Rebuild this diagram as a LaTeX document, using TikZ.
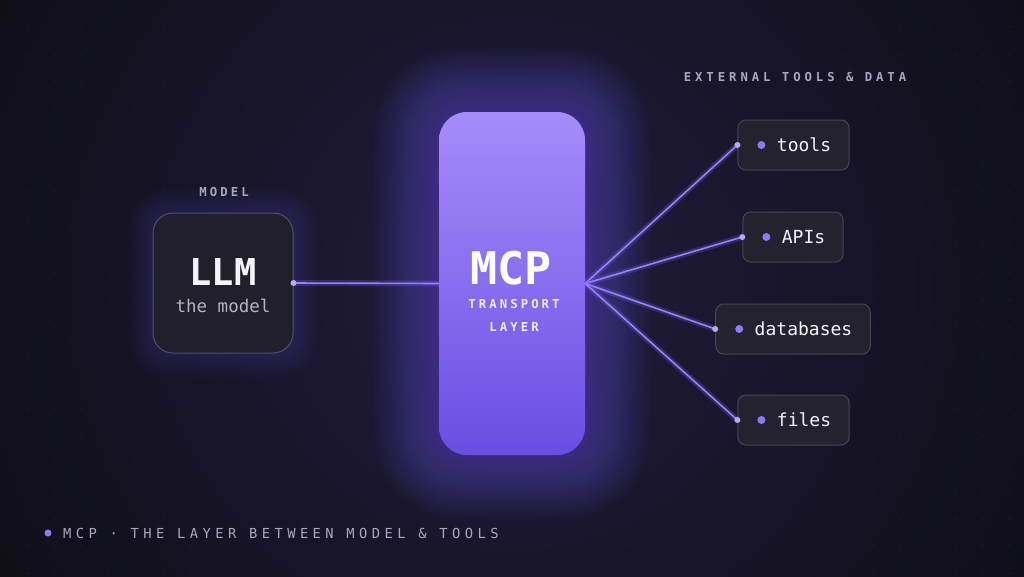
\documentclass[tikz,border=0pt]{standalone}
\usepackage{fontspec}
\setmonofont{DejaVu Sans Mono}
\newfontfamily\trackfont[LetterSpace=25]{DejaVu Sans Mono}
\newfontfamily\widetrackfont[LetterSpace=32]{DejaVu Sans Mono}
\usetikzlibrary{positioning, calc}

\definecolor{bgdark}{HTML}{0D0D14}
\definecolor{bgglow}{HTML}{221C3E}
\definecolor{griddot}{HTML}{1D1D29}
\definecolor{mcptop}{HTML}{A68CFB}
\definecolor{mcpbottom}{HTML}{6A4EE2}
\definecolor{mcpglow}{HTML}{7C5CF5}
\definecolor{boxfill}{HTML}{201F2A}
\definecolor{boxline}{HTML}{534E6B}
\definecolor{toolfill}{HTML}{23222E}
\definecolor{toolline}{HTML}{46445A}
\definecolor{linkviolet}{HTML}{9484F4}
\definecolor{dotviolet}{HTML}{8B7CF6}
\definecolor{enddot}{HTML}{B4AAEE}
\definecolor{textwhite}{HTML}{F3F1FA}
\definecolor{subgray}{HTML}{B6B3C8}
\definecolor{labelgray}{HTML}{A9A6BE}
\definecolor{mcptext}{HTML}{F1EDFF}

\begin{document}
\begin{tikzpicture}
    [
        x=1pt, y=-1pt,
        modelbox/.style={draw=boxline, fill=boxfill, line width=1pt, rounded corners=20pt,
            minimum width=140pt, minimum height=140pt},
        mcpbox/.style={top color=mcptop, bottom color=mcpbottom, rounded corners=28pt,
            minimum width=146pt, minimum height=343pt},
        toolbox/.style={draw=toolline, fill=toolfill, line width=1pt, rounded corners=8pt,
            minimum height=50pt, inner xsep=18pt, text=textwhite,
            font=\ttfamily\fontsize{18}{20}\selectfont},
        tagtext/.style={text=labelgray, font=\trackfont\bfseries\fontsize{12.3}{14}\selectfont},
        link/.style={draw=linkviolet, line width=1.6pt},
        linkglow/.style={draw=mcpglow, line width=6pt, opacity=0.25},
    ]
    \useasboundingbox (0,0) rectangle (1024,576);
    % backdrop
    \fill[bgdark] (0,0) rectangle (1024,576);
    \begin{scope}
        \clip (0,0) rectangle (1024,576);
        \shade[inner color=bgglow, outer color=bgdark] (512,283) circle (640);
        \foreach \gx in {0,...,37}
            \foreach \gy in {0,...,20}
                \fill[griddot] (27+27.3*\gx,27+27.3*\gy) circle (1);
    \end{scope}

    % glow round the boxes
    \foreach \g [evaluate=\g as \r using 28+2*\g] in {1,...,30}
        \fill[mcpglow, opacity=0.018, rounded corners=\r pt]
            (439-2.2*\g,112-2.2*\g) rectangle (585+2.2*\g,455+2.2*\g);
    \foreach \g [evaluate=\g as \r using 20+2*\g] in {1,...,10}
        \fill[mcpglow, opacity=0.018, rounded corners=\r pt]
            (153-2.5*\g,213-2.5*\g) rectangle (293+2.5*\g,353+2.5*\g);

    % model
    \node[modelbox] (llm) at (223,283) {};
    \node[tagtext] (modeltag) at (224,192) {MODEL};
    \node[text=textwhite, font=\ttfamily\bfseries\fontsize{37}{40}\selectfont] (llmname) at (223,272) {LLM};
    \node[text=subgray, font=\ttfamily\fontsize{17.5}{20}\selectfont] (llmsub) at (223,305.5) {the model};

    % transport layer
    \node[mcpbox] (mcp) at (512,283.5) {};
    \node[text=white, font=\ttfamily\bfseries\fontsize{45}{48}\selectfont] (mcpname) at (511,268) {MCP};
    \node[text=mcptext, font=\trackfont\bfseries\fontsize{12.3}{14}\selectfont] (mcpsub1) at (514,304) {TRANSPORT};
    \node[text=mcptext, font=\trackfont\bfseries\fontsize{12.3}{14}\selectfont] (mcpsub2) at (514,327) {LAYER};

    % external tools
    \node[tagtext, font=\widetrackfont\bfseries\fontsize{12.3}{14}\selectfont] (exttag) at (795,77) {EXTERNAL TOOLS \& DATA};
    \node[toolbox] (tools) at (793.5,145) {\hspace{21pt}tools};
    \node[toolbox] (apis) at (793,237) {\hspace{21pt}APIs};
    \node[toolbox] (dbs) at (793,329) {\hspace{21pt}databases};
    \node[toolbox] (files) at (793.5,420) {\hspace{21pt}files};
    \foreach \t in {tools,apis,dbs,files}
        \fill[dotviolet] ($(\t.west)+(24,0)$) circle (4);

    % connectors
    \draw[linkglow] (llm.east) -- (mcp.west);
    \draw[link] (llm.east) -- (mcp.west);
    \foreach \t in {tools,apis,dbs,files}
    {
        \draw[linkglow] (mcp.east) -- (\t.west);
        \draw[link] (mcp.east) -- (\t.west);
        \fill[enddot] (\t.west) circle (3);
    }
    \fill[enddot] (llm.east) circle (3);

    % footer
    \fill[dotviolet] (48,533) circle (3.5);
    \node[anchor=west, inner sep=0pt, text=labelgray, font=\widetrackfont\fontsize{13.8}{16}\selectfont] (footer) at (63,533)
        {MCP · THE LAYER BETWEEN MODEL \& TOOLS};
\end{tikzpicture}
\end{document}
